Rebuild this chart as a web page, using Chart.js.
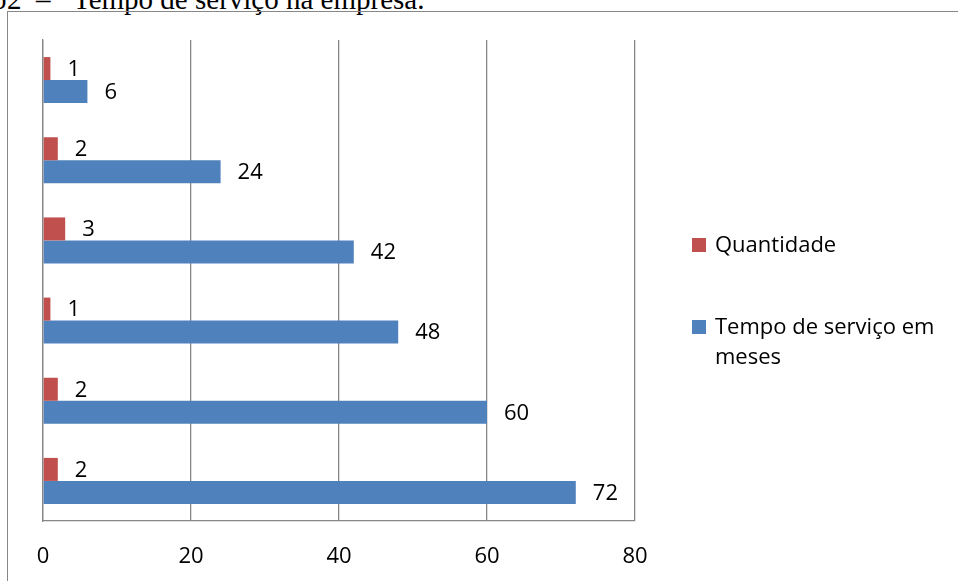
<!DOCTYPE html>
<html>
<head>
<meta charset="utf-8">
<script src="https://cdn.jsdelivr.net/npm/chart.js@4.4.1/dist/chart.umd.min.js"></script>
<style>
  html, body { margin: 0; padding: 0; background: #fff; }
  body { width: 958px; height: 581px; position: relative; overflow: hidden; }
  .caption { position: absolute; top: -15px; font-family: "Liberation Serif", "Times New Roman", serif;
             font-size: 29px; line-height: 29px; color: #000; white-space: nowrap; }
  .frame { position: absolute; left: 7px; top: 11px; width: 980px; height: 620px;
           border: 1px solid #878787; box-sizing: border-box; }
  #wrap { position: absolute; left: 0; top: 0; width: 958px; height: 581px; }
</style>
</head>
<body>
<div class="caption" style="left:-8px">o</div>
<div class="caption" style="left:7px">2</div>
<div class="caption" style="left:36px">–</div>
<div class="caption" style="left:73px">Tempo de serviço na empresa.</div>
<div class="frame"></div>
<div id="wrap"><canvas id="c" width="958" height="581"></canvas></div>
<script>
// Groups listed from top to bottom
const categories = ['1', '2', '3', '4', '5', '6'];
const quantidade = [1, 2, 3, 1, 2, 2];
const tempoMeses = [6, 24, 42, 48, 60, 72];
const xTicks = [0, 20, 40, 60, 80];
const seriesNames = ['Quantidade', 'Tempo de serviço em meses'];

const FONT = '"Open Sans", "Noto Sans", sans-serif';
const FONT_SIZE = 22;
const GRID = '#868686';

// Value written just past the end of each bar
const barLabels = {
  id: 'barLabels',
  afterDatasetsDraw(chart) {
    const ctx = chart.ctx;
    ctx.save();
    ctx.font = FONT_SIZE + 'px ' + FONT;
    ctx.fillStyle = '#000';
    ctx.textAlign = 'left';
    ctx.textBaseline = 'middle';
    chart.data.datasets.forEach((ds, i) => {
      chart.getDatasetMeta(i).data.forEach((bar, j) => {
        ctx.fillText(String(ds.data[j]), bar.x + 17, bar.y + 1);
      });
    });
    ctx.restore();
  }
};

// Legend at the right, wrapping long names
const sideLegend = {
  id: 'sideLegend',
  afterDraw(chart) {
    const ctx = chart.ctx;
    ctx.save();
    ctx.font = FONT_SIZE + 'px ' + FONT;
    ctx.textBaseline = 'middle';
    ctx.textAlign = 'left';
    const boxX = 692, textX = 715, maxW = 240, lineH = 30;
    const rowTop = [245, 327];
    chart.data.datasets.forEach((ds, i) => {
      const words = ds.label.split(' ');
      const lines = [];
      let cur = '';
      words.forEach(w => {
        const t = cur ? cur + ' ' + w : w;
        if (ctx.measureText(t).width > maxW && cur) { lines.push(cur); cur = w; }
        else cur = t;
      });
      lines.push(cur);
      const y = rowTop[i];
      ctx.fillStyle = ds.backgroundColor;
      ctx.fillRect(boxX, y - 7, 14, 14);
      ctx.fillStyle = '#000';
      lines.forEach((ln, k) => ctx.fillText(ln, textX, y + 1 + k * lineH));
    });
    ctx.restore();
  }
};

new Chart(document.getElementById('c'), {
  type: 'bar',
  data: {
    labels: categories,
    datasets: [
      { label: seriesNames[0], data: quantidade, backgroundColor: '#C0504D',
        categoryPercentage: 0.574, barPercentage: 1.0 },
      { label: seriesNames[1], data: tempoMeses, backgroundColor: '#4F81BD',
        categoryPercentage: 0.574, barPercentage: 1.0 }
    ]
  },
  options: {
    indexAxis: 'y',
    responsive: false,
    animation: false,
    devicePixelRatio: 1,
    layout: { padding: { left: 43, top: 40, right: 323, bottom: 0 } },
    plugins: {
      legend: { display: false },
      tooltip: { enabled: false }
    },
    scales: {
      x: {
        type: 'linear',
        min: xTicks[0],
        max: xTicks[xTicks.length - 1],
        afterBuildTicks(scale) { scale.ticks = xTicks.map(v => ({ value: v })); },
        afterFit(scale) { scale.height = 60; },
        grid: { color: GRID, lineWidth: 1.3, drawTicks: false },
        border: { display: true, color: GRID, width: 1.3 },
        ticks: { color: '#000', font: { family: FONT, size: FONT_SIZE }, padding: 23 }
      },
      y: {
        afterFit(scale) { scale.width = 0; },
        grid: { display: false, drawTicks: false },
        border: { display: true, color: GRID, width: 1.3 },
        ticks: { display: false }
      }
    }
  },
  plugins: [barLabels, sideLegend]
});
</script>
</body>
</html>
